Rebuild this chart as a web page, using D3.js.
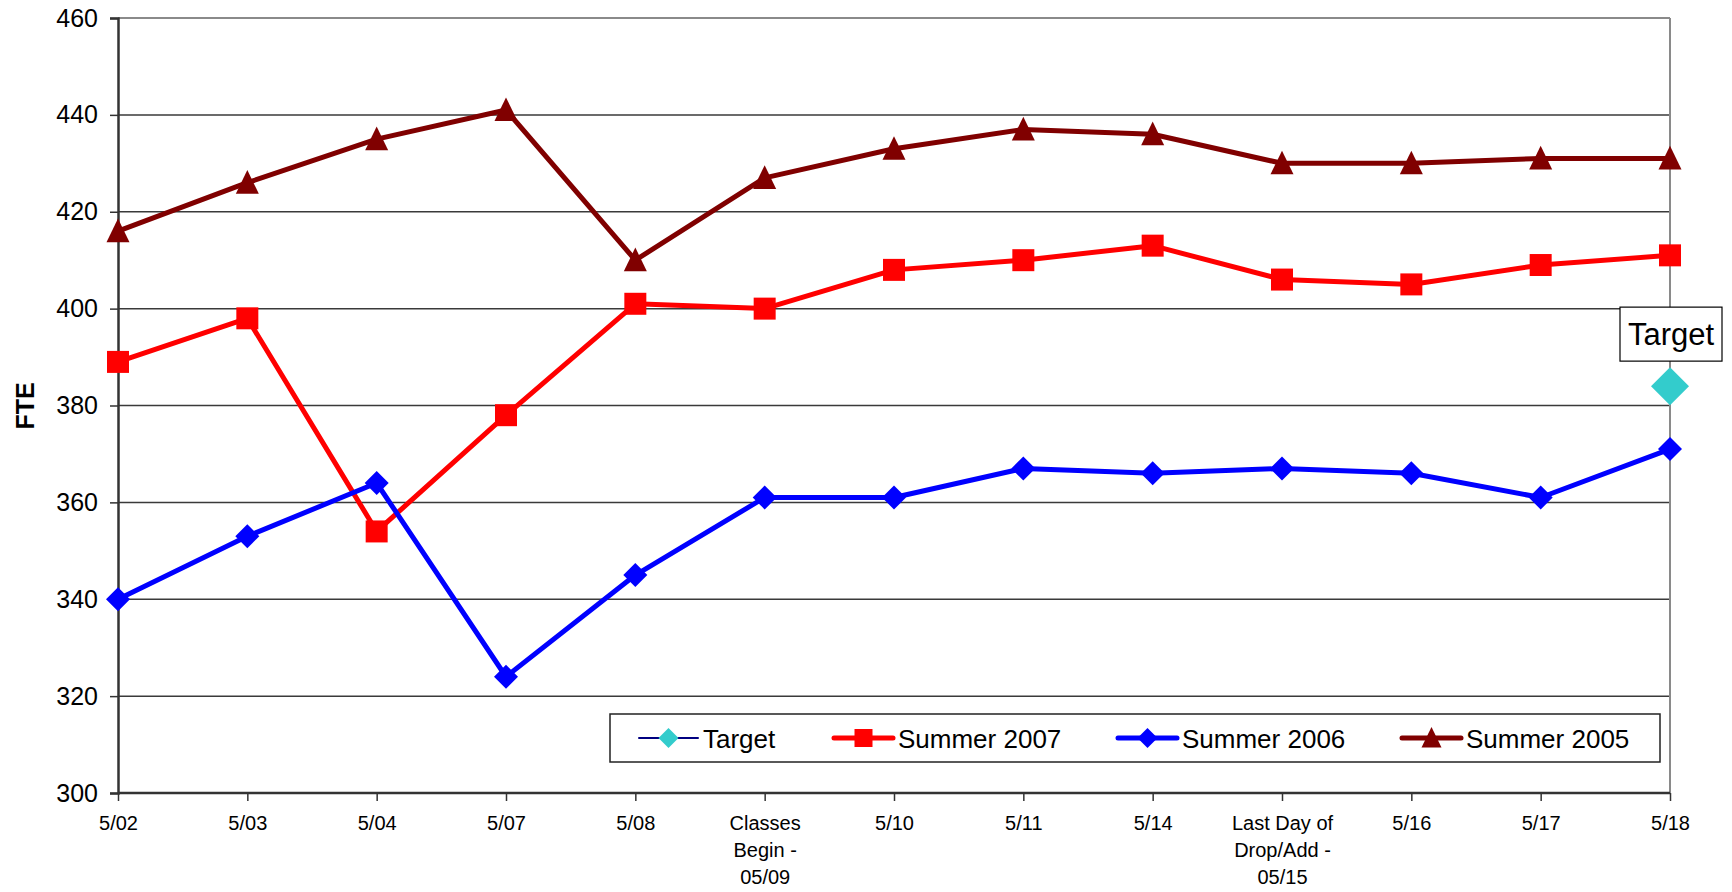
<!DOCTYPE html>
<html>
<head>
<meta charset="utf-8">
<script src="https://cdn.jsdelivr.net/npm/d3@7"></script>
<style>
  html, body { margin: 0; padding: 0; background: #fff; }
  svg { display: block; font-family: "Liberation Sans", Arial, sans-serif; }
</style>
</head>
<body>
<svg id="chart" width="1732" height="892"></svg>
<script>
// ---- data ----
const categories = ["5/02", "5/03", "5/04", "5/07", "5/08", "Classes Begin - 05/09", "5/10", "5/11", "5/14", "Last Day of Drop/Add - 05/15", "5/16", "5/17", "5/18"];
const categoryLines = [["5/02"], ["5/03"], ["5/04"], ["5/07"], ["5/08"], ["Classes", "Begin -", "05/09"], ["5/10"], ["5/11"], ["5/14"], ["Last Day of", "Drop/Add -", "05/15"], ["5/16"], ["5/17"], ["5/18"]];
const summer2005 = [416, 426, 435, 441, 410, 427, 433, 437, 436, 430, 430, 431, 431];
const summer2007 = [389, 398, 354, 378, 401, 400, 408, 410, 413, 406, 405, 409, 411];
const summer2006 = [340, 353, 364, 324, 345, 361, 361, 367, 366, 367, 366, 361, 371];
const targetValues = [null, null, null, null, null, null, null, null, null, null, null, null, 384];
const yTicks = [300, 320, 340, 360, 380, 400, 420, 440, 460];
const seriesNames = ["Target", "Summer 2007", "Summer 2006", "Summer 2005"];

// ---- layout ----
const L = 118, R = 1670, T = 18, B = 793;
const svg = d3.select("#chart");

const x = d3.scalePoint().domain(categories).range([L, R]);
const y = d3.scaleLinear().domain([300, 460]).range([B, T]);

// gridlines
svg.append("g").selectAll("line").data(yTicks.filter(d => d > 300 && d < 460)).join("line")
  .attr("x1", L).attr("x2", R).attr("y1", d => y(d)).attr("y2", d => y(d))
  .attr("stroke", "#3a3a3a").attr("stroke-width", 1.5);

// plot border top/right (gray)
svg.append("line").attr("x1", L).attr("x2", R).attr("y1", T).attr("y2", T)
  .attr("stroke", "#8a8a8a").attr("stroke-width", 2);
svg.append("line").attr("x1", R).attr("x2", R).attr("y1", T).attr("y2", B)
  .attr("stroke", "#8a8a8a").attr("stroke-width", 2);

// y axis
const yAxis = d3.axisLeft(y).tickValues(yTicks).tickSize(8).tickPadding(12).tickFormat(d3.format("d"));
const gy = svg.append("g").attr("transform", `translate(${L},0)`).call(yAxis);
gy.select(".domain").attr("stroke", "#333").attr("stroke-width", 2.5);
gy.selectAll(".tick line").attr("stroke", "#333").attr("stroke-width", 1.5);
gy.selectAll(".tick text").attr("font-size", 25).attr("fill", "#000")
  .attr("font-family", "Liberation Sans, Arial, sans-serif");

// x axis
const xAxis = d3.axisBottom(x).tickSize(8).tickFormat("");
const gx = svg.append("g").attr("transform", `translate(0,${B})`).call(xAxis);
gx.select(".domain").attr("stroke", "#333").attr("stroke-width", 2.5).attr("d", `M${L},0H${R}`);
gx.selectAll(".tick line").attr("stroke", "#333").attr("stroke-width", 1.5);
gx.selectAll(".tick").each(function(d, i) {
  const t = d3.select(this).append("text")
    .attr("text-anchor", "middle").attr("font-size", 20).attr("fill", "#000")
    .attr("font-family", "Liberation Sans, Arial, sans-serif");
  categoryLines[i].forEach((ln, k) => {
    t.append("tspan").attr("x", 0).attr("y", 37 + k * 27).text(ln);
  });
});

// y axis title
svg.append("text").attr("transform", "translate(34,406) rotate(-90)")
  .attr("text-anchor", "middle").attr("font-size", 25).attr("font-weight", "bold")
  .text("FTE");

// ---- series ----
const line = d3.line().defined(d => d.v != null).x(d => x(d.c)).y(d => y(d.v));
function toPts(arr) { return arr.map((v, i) => ({ c: categories[i], v })); }

const triangle = s => `M0,${-s * 0.55}L${s * 0.5},${s * 0.48}L${-s * 0.5},${s * 0.48}Z`;
const square = s => `M${-s / 2},${-s / 2}h${s}v${s}h${-s}Z`;
const diamond = (w, h) => `M0,${-h}L${w},0L0,${h}L${-w},0Z`;

const series = [
  { name: "Summer 2005", data: summer2005, color: "#800000", marker: triangle(23), lw: 5 },
  { name: "Summer 2007", data: summer2007, color: "#ff0000", marker: square(22), lw: 5 },
  { name: "Summer 2006", data: summer2006, color: "#0000ff", marker: diamond(12, 12), lw: 5 },
];

series.forEach(s => {
  const pts = toPts(s.data);
  svg.append("path").datum(pts).attr("d", line)
    .attr("fill", "none").attr("stroke", s.color).attr("stroke-width", s.lw)
    .attr("stroke-linejoin", "round");
  svg.append("g").selectAll("path").data(pts.filter(p => p.v != null)).join("path")
    .attr("transform", p => `translate(${x(p.c)},${y(p.v)})`)
    .attr("d", s.marker).attr("fill", s.color);
});

// target
const tPts = toPts(targetValues).filter(p => p.v != null);
svg.append("g").selectAll("path").data(tPts).join("path")
  .attr("transform", p => `translate(${x(p.c)},${y(p.v)})`)
  .attr("d", diamond(19, 19)).attr("fill", "#33cccc");
tPts.forEach(p => {
  const cx = x(p.c) + 1, cy = y(p.v) - 52;
  svg.append("rect").attr("x", cx - 51).attr("y", cy - 27).attr("width", 102).attr("height", 54)
    .attr("fill", "#fff").attr("stroke", "#000").attr("stroke-width", 1.2);
  svg.append("text").attr("x", cx).attr("y", cy + 11).attr("text-anchor", "middle")
    .attr("font-size", 31).text("Target");
});

// ---- legend ----
const lg = svg.append("g");
lg.append("rect").attr("x", 610).attr("y", 714).attr("width", 1050).attr("height", 48)
  .attr("fill", "#fff").attr("stroke", "#222").attr("stroke-width", 1.5);
const legendItems = [
  { name: seriesNames[0], x0: 639, color: "#000080", lw: 2, mfill: "#33cccc", marker: diamond(10, 10) },
  { name: seriesNames[1], x0: 834, color: "#ff0000", lw: 5, mfill: "#ff0000", marker: square(18) },
  { name: seriesNames[2], x0: 1118, color: "#0000ff", lw: 5, mfill: "#0000ff", marker: diamond(10, 10) },
  { name: seriesNames[3], x0: 1402, color: "#800000", lw: 5, mfill: "#800000", marker: triangle(20) },
];
const ly = 738;
legendItems.forEach(it => {
  lg.append("line").attr("x1", it.x0).attr("x2", it.x0 + 59).attr("y1", ly).attr("y2", ly)
    .attr("stroke", it.color).attr("stroke-width", it.lw).attr("stroke-linecap", "round");
  lg.append("path").attr("transform", `translate(${it.x0 + 29.5},${ly})`).attr("d", it.marker)
    .attr("fill", it.mfill);
  lg.append("text").attr("x", it.x0 + 64).attr("y", ly + 9.5).attr("font-size", 26).text(it.name);
});
</script>
</body>
</html>
